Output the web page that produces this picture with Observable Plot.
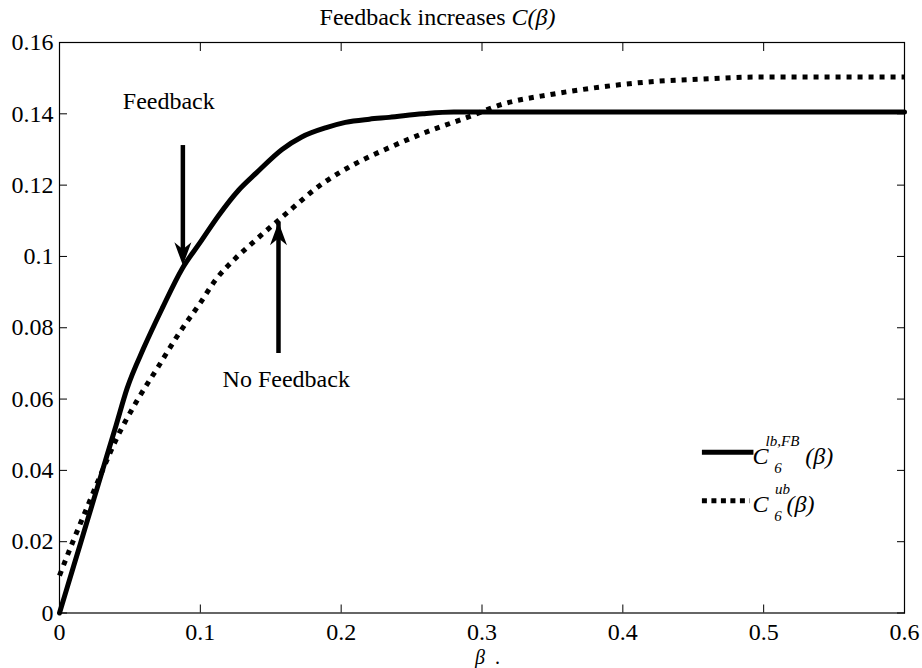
<!DOCTYPE html>
<html>
<head>
<meta charset="utf-8">
<script src="https://cdn.jsdelivr.net/npm/d3@7"></script>
<script src="https://cdn.jsdelivr.net/npm/@observablehq/plot@0.6"></script>
<style>
  body { margin: 0; background: #fff; }
  #chart svg { display: block; }
</style>
</head>
<body>
<div id="chart"></div>
<script>
// ---- data ----
const betaFB = [0, 0.01, 0.02, 0.03, 0.04, 0.048, 0.06, 0.073, 0.087, 0.1, 0.113, 0.127, 0.14, 0.158, 0.172, 0.19, 0.203, 0.22, 0.234, 0.258, 0.28, 0.3, 0.6];
const capFB  = [0, 0.0131, 0.0262, 0.0393, 0.0524, 0.063, 0.0745, 0.0855, 0.0965, 0.104, 0.1115, 0.1185, 0.1235, 0.13, 0.1335, 0.1362, 0.1376, 0.1385, 0.139, 0.14, 0.1405, 0.1405, 0.1405];

const betaUB = [0, 0.01, 0.02, 0.03, 0.04, 0.055, 0.07, 0.085, 0.1, 0.111, 0.125, 0.139, 0.158, 0.187, 0.21, 0.234, 0.258, 0.293, 0.313, 0.35, 0.384, 0.42, 0.455, 0.496, 0.6];
const capUB  = [0.0105, 0.0205, 0.030, 0.0395, 0.0485, 0.0595, 0.069, 0.0785, 0.087, 0.0935, 0.0995, 0.1045, 0.111, 0.1205, 0.126, 0.1305, 0.1345, 0.1395, 0.1425, 0.1455, 0.1475, 0.149, 0.1497, 0.1503, 0.1503];

const xTicks = [0, 0.1, 0.2, 0.3, 0.4, 0.5, 0.6];
const xTickLabels = ["0", "0.1", "0.2", "0.3", "0.4", "0.5", "0.6"];
const yTicks = [0, 0.02, 0.04, 0.06, 0.08, 0.1, 0.12, 0.14, 0.16];
const yTickLabels = ["0", "0.02", "0.04", "0.06", "0.08", "0.1", "0.12", "0.14", "0.16"];

// annotation arrows: x, start value, tip value
const arrowX    = [0.0876, 0.1555];
const arrowFrom = [0.1311, 0.0767];
const arrowTo   = [0.0975, 0.1096];
// annotation labels
const noteText = ["Feedback", "No Feedback"];
const noteX    = [0.0776, 0.161];
const noteY    = [0.1414, 0.0633];
// legend sample positions (data units)
const legendX1 = [0.4565, 0.4565];
const legendX2 = [0.4931, 0.4905];
const legendY  = [0.0451, 0.0315];
const legendSup = ["lb,FB", "ub"];

// ---- build tables ----
const fb = betaFB.map((b, i) => ({beta: b, c: capFB[i]}));
const ub = betaUB.map((b, i) => ({beta: b, c: capUB[i]}));
const arrows = arrowX.map((x, i) => ({x, y1: arrowFrom[i], y2: arrowTo[i]}));
const notes = noteText.map((t, i) => ({t, x: noteX[i], y: noteY[i]}));
const legend = legendX1.map((x1, i) => ({x1, x2: legendX2[i], y: legendY[i], dashed: i === 1}));

const headDown = {draw(ctx) { ctx.moveTo(0, 0); ctx.lineTo(-8.5, -23); ctx.lineTo(0, -16); ctx.lineTo(8.5, -23); ctx.closePath(); }};
const headUp   = {draw(ctx) { ctx.moveTo(0, 0); ctx.lineTo(-8.5, 23); ctx.lineTo(0, 16); ctx.lineTo(8.5, 23); ctx.closePath(); }};

const font = "'Liberation Serif', 'Times New Roman', serif";
const lab = (ticks, labels) => d => labels[ticks.indexOf(d)];

const plot = Plot.plot({
  width: 922,
  height: 668,
  marginLeft: 59,
  marginRight: 18,
  marginTop: 42,
  marginBottom: 55.5,
  style: {fontFamily: font, fontSize: "24px", color: "black", background: "white"},
  x: {domain: [0, 0.6]},
  y: {domain: [0, 0.16]},
  marks: [
    // inward ticks on all four sides
    Plot.axisX(xTicks, {anchor: "bottom", tickSize: -8, tickFormat: () => "", label: null}),
    Plot.axisX(xTicks, {anchor: "top", tickSize: -8, tickFormat: () => "", label: null}),
    Plot.axisY(yTicks, {anchor: "left", tickSize: -8, tickFormat: () => "", label: null}),
    Plot.axisY(yTicks, {anchor: "right", tickSize: -8, tickFormat: () => "", label: null}),
    // tick labels
    Plot.axisX(xTicks, {anchor: "bottom", tickSize: 0, tickPadding: 10, tickFormat: lab(xTicks, xTickLabels), label: null}),
    Plot.axisY(yTicks, {anchor: "left", tickSize: 0, tickPadding: 6, tickFormat: lab(yTicks, yTickLabels), label: null}),
    Plot.frame({stroke: "black", strokeWidth: 1.2}),
    // curves
    Plot.line(ub, {x: "beta", y: "c", stroke: "black", strokeWidth: 5, strokeDasharray: "5,6", strokeLinecap: "butt", curve: "monotone-x"}),
    Plot.line(fb, {x: "beta", y: "c", stroke: "black", strokeWidth: 5, curve: "monotone-x"}),
    // arrows
    Plot.ruleX(arrows.filter(d => d.y2 < d.y1), {x: "x", y1: "y1", y2: "y2", stroke: "black", strokeWidth: 4.5, insetBottom: 14}),
    Plot.ruleX(arrows.filter(d => d.y2 > d.y1), {x: "x", y1: "y1", y2: "y2", stroke: "black", strokeWidth: 4.5, insetTop: 14}),
    Plot.dot(arrows.filter(d => d.y2 < d.y1), {x: "x", y: "y2", symbol: headDown, fill: "black", stroke: "none"}),
    Plot.dot(arrows.filter(d => d.y2 > d.y1), {x: "x", y: "y2", symbol: headUp, fill: "black", stroke: "none"}),
    // annotation labels
    Plot.text(notes, {x: "x", y: "y", text: "t", textAnchor: "middle", lineAnchor: "bottom", fontSize: 24, fill: "black"}),
    // legend samples
    Plot.ruleY(legend.filter(d => !d.dashed), {y: "y", x1: "x1", x2: "x2", stroke: "black", strokeWidth: 5}),
    Plot.ruleY(legend.filter(d => d.dashed), {y: "y", x1: "x1", x2: "x2", stroke: "black", strokeWidth: 5, strokeDasharray: "5,4.5"})
  ]
});

document.getElementById("chart").appendChild(plot);

// ---- rich text: title, x label, legend labels ----
const svg = d3.select(plot);
const sx = plot.scale("x"), sy = plot.scale("y");

const title = svg.append("text")
  .attr("x", 437.5).attr("y", 25).attr("text-anchor", "middle")
  .attr("font-family", font).attr("font-size", 24).attr("fill", "black");
title.append("tspan").text("Feedback increases ");
title.append("tspan").attr("font-style", "italic").text("C(β)");

const xl = svg.append("text")
  .attr("x", sx.apply(0.3) + 6).attr("y", 663.5).attr("text-anchor", "middle")
  .attr("font-family", font).attr("font-size", 20).attr("fill", "black");
xl.append("tspan").attr("font-style", "italic").text("β");
xl.append("tspan").text("  .");

const legendTextX = sx.apply(legendX2[0]) + 7;
legend.forEach((d, i) => {
  const x0 = legendTextX;
  const yb = sy.apply(d.y) + 12;
  const t = svg.append("text")
    .attr("font-family", font).attr("font-style", "italic").attr("fill", "black")
    .attr("x", x0).attr("y", yb).attr("font-size", 24);
  t.append("tspan").text("C");
  t.append("tspan").attr("x", x0 + 17.5).attr("y", yb + 9).attr("font-size", 15).text("6");
  const sup = t.append("tspan").attr("x", x0 + 22).attr("y", yb - 18).attr("font-size", 15).text(legendSup[i]);
  const w = sup.node().getComputedTextLength();
  t.append("tspan").attr("x", x0 + 22 + w + 3).attr("y", yb).text("(β)");
});
</script>
</body>
</html>
